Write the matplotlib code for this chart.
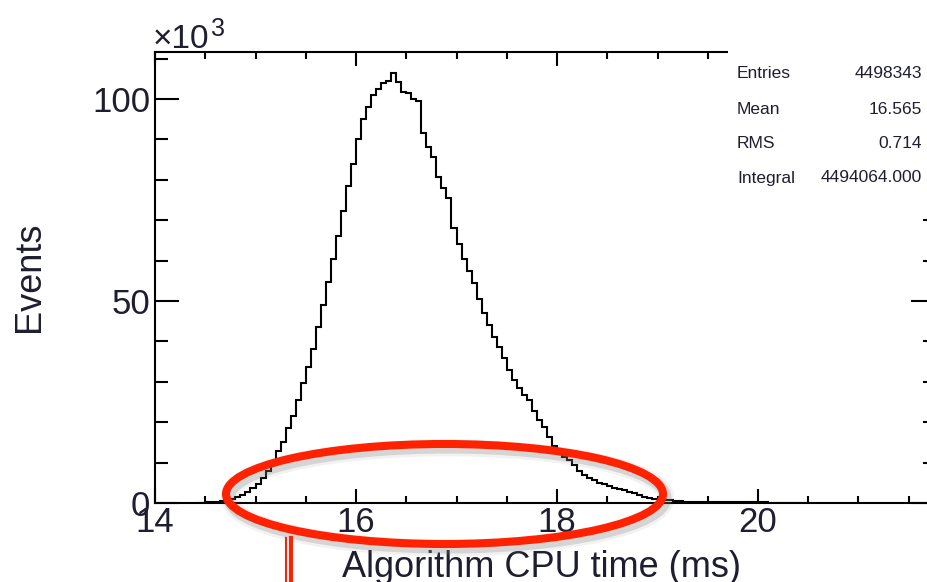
import numpy as np
import matplotlib
matplotlib.use('Agg')
import matplotlib.pyplot as plt
from matplotlib.patches import Ellipse, Rectangle
from matplotlib.ticker import MultipleLocator

plt.rcParams['font.family'] = ['Liberation Sans', 'DejaVu Sans']

# histogram: bin edges (ms) and bin contents (x10^3 events)
bin_lo, bin_hi, bin_w = 14.40, 20.50, 0.05
counts_k = [
    0.05, 0.1, 0.15, 0.2, 0.3, 0.4, 0.7, 1.0, 1.4, 2.0,            # 14.40 - 14.85
    2.7, 3.6, 4.8, 6.2, 8.0, 10.2, 12.8, 15.2, 18.5, 21.6,         # 14.90 - 15.35
    25.5, 29.8, 33.6, 38.2, 43.5, 49.0, 54.8, 60.5, 66.0, 72.2,    # 15.40 - 15.85
    78.5, 84.0, 90.0, 95.0, 98.0, 101.0, 102.5, 104.0, 104.5, 106.4,  # 15.90 - 16.35
    104.2, 101.7, 101.5, 100.0, 99.6, 91.6, 88.0, 85.6, 80.7, 78.0,   # 16.40 - 16.85
    75.5, 68.0, 64.0, 60.5, 57.5, 54.5, 50.5, 47.0, 44.0, 41.0,    # 16.90 - 17.35
    38.5, 36.0, 33.0, 30.4, 28.5, 26.8, 25.5, 22.8, 20.6, 18.8,    # 17.40 - 17.85
    16.3, 14.2, 12.6, 11.5, 10.6, 9.3, 8.0, 7.0, 6.2, 5.6,         # 17.90 - 18.35
    5.0, 4.6, 4.2, 3.8, 3.5, 3.1, 2.8, 2.4, 2.0, 1.6,              # 18.40 - 18.85
    1.3, 1.1, 0.9, 0.8, 0.7, 0.6, 0.4, 0.35, 0.3, 0.3,             # 18.90 - 19.35
    0.28, 0.26, 0.25, 0.24, 0.22, 0.2, 0.19, 0.18, 0.17, 0.16,     # 19.40 - 19.85
    0.15, 0.14, 0.13, 0.13, 0.12, 0.11, 0.1, 0.1, 0.09, 0.09,      # 19.90 - 20.35
    0.08, 0.08,                                                    # 20.40 - 20.45
]
edges = np.round(np.arange(bin_lo, bin_hi + bin_w / 2, bin_w), 3)

stat_names = ['Entries', 'Mean', 'RMS', 'Integral']
stat_values = ['4498343', '16.565', '0.714', '4494064.000']

x_label = 'Algorithm CPU time (ms)'
y_label = 'Events'

W, H = 928, 582
txt_col = '#1e1e30'

fig = plt.figure(figsize=(W / 100, H / 100), dpi=100)
ax = fig.add_axes([155 / W, 79 / H, (935 - 155) / W, 451 / H])

ax.stairs(counts_k, edges, color='black', lw=1.5)

ax.set_xlim(14, 14 + (935 - 155) / 100.5)
ax.set_ylim(0, 451 / 4.04)

ax.xaxis.set_major_locator(MultipleLocator(2))
ax.xaxis.set_minor_locator(MultipleLocator(0.5))
ax.yaxis.set_major_locator(MultipleLocator(50))
ax.yaxis.set_minor_locator(MultipleLocator(10))

ax.tick_params(which='both', direction='in', top=True, right=True,
               width=1.5, colors='black', labelcolor=txt_col, labelsize=25)
ax.tick_params(axis='x', which='major', length=10, pad=2)
ax.tick_params(axis='x', which='minor', length=5)
ax.tick_params(axis='y', which='major', length=17, pad=3.5)
ax.tick_params(axis='y', which='minor', length=9)
for s in ax.spines.values():
    s.set_linewidth(1.5)

# x10^3 multiplier
fig.text(153 / W, 1 - 48 / H, '\u00d710', fontsize=24, color=txt_col,
         ha='left', va='baseline')
fig.text(211 / W, 1 - 36 / H, '3', fontsize=18, color=txt_col,
         ha='left', va='baseline')

# axis titles
fig.text(542 / W, 1 - 577 / H, x_label, fontsize=26, color=txt_col,
         ha='center', va='baseline')
fig.text(30 / W, 1 - 277 / H, y_label, fontsize=26, color=txt_col,
         ha='center', va='center', rotation=90)

# stats box
fig.patches.append(Rectangle((728 / W, 1 - 205 / H), (W - 728) / W, 170 / H,
                             transform=fig.transFigure, facecolor='white',
                             edgecolor='none', zorder=5))
rows_y = [74, 109, 144, 178]
for name, val, yy in zip(stat_names, stat_values, rows_y):
    fig.text(737 / W, 1 - yy / H, name, fontsize=12.5, color=txt_col,
             ha='left', va='center', zorder=6)
    fig.text(922 / W, 1 - yy / H, val, fontsize=12.5, color=txt_col,
             ha='right', va='center', zorder=6)

# red annotation ellipse with soft shadow
cx, cy, ew, eh = 444.5, 494, 437, 100
for lw, a in [(12, 0.10), (8, 0.25)]:
    fig.patches.append(Ellipse(((cx + 3) / W, 1 - (cy + 4) / H), ew / W, eh / H,
                               transform=fig.transFigure, fill=False,
                               edgecolor='gray', lw=lw, alpha=a, zorder=7))
fig.patches.append(Ellipse((cx / W, 1 - cy / H), ew / W, eh / H,
                           transform=fig.transFigure, fill=False,
                           edgecolor='#ff2200', lw=5.8, zorder=8))

# red marker lines below the axis
fig.add_artist(plt.Line2D([285.5 / W, 285.5 / W], [1 - 538 / H, 0],
                          transform=fig.transFigure, color='#ff2200', lw=1.5, zorder=8))
fig.add_artist(plt.Line2D([291 / W, 291 / W], [1 - 538 / H, 0],
                          transform=fig.transFigure, color='#ff2200', lw=3, zorder=8))

fig.savefig('out.png', dpi=100)
